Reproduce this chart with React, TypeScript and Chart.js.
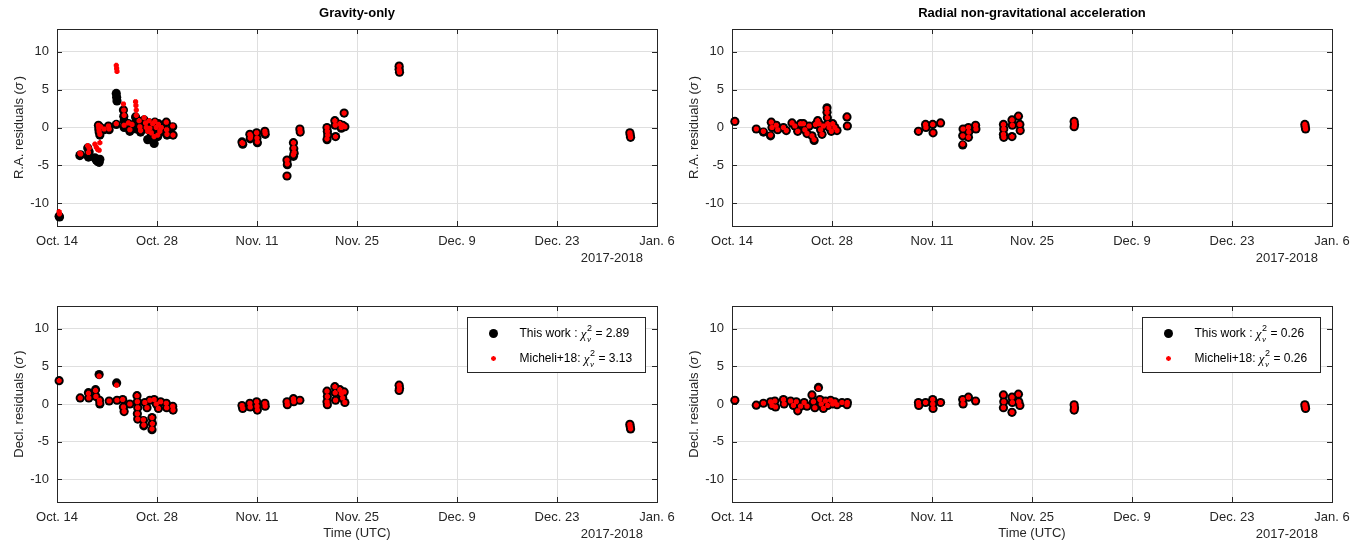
import React, { useEffect, useRef } from "react";
import { Chart, registerables } from "chart.js";
Chart.register(...registerables);

// ---- axis definitions (days since Oct. 14, 2017) ----
const xTickDays = [0, 14, 28, 42, 56, 70, 84];
const xTickLabels = ["Oct. 14", "Oct. 28", "Nov. 11", "Nov. 25", "Dec. 9", "Dec. 23", "Jan. 6"];
const yTicks = [-10, -5, 0, 5, 10];
const yearLabel = "2017-2018";

// ---- Gravity-only, R.A. residuals ----
const grRaDays = [0.3, 0.35, 3.2, 3.3, 4.3, 4.4, 4.5, 5.3, 5.5, 5.7, 5.9, 6.0, 5.8, 5.85, 5.9, 6.0, 6.1, 6.6, 7.2, 7.3, 8.3, 8.35, 8.4, 8.3, 9.3, 9.35, 9.4, 9.4, 10.0, 10.2, 10.5, 11.0, 11.05, 11.1, 11.1, 11.5, 11.6, 11.7, 12.2, 12.4, 12.5, 12.7, 12.9, 13.0, 13.2, 13.4, 13.6, 13.7, 13.9, 14.1, 14.2, 14.4, 14.6, 15.3, 15.35, 15.4, 16.2, 16.25, 25.9, 26.0, 27.0, 27.05, 27.1, 27.95, 28.0, 28.05, 29.1, 29.15, 32.2, 32.25, 32.2, 33.1, 33.15, 33.2, 33.1, 34.0, 34.05, 37.8, 37.85, 37.9, 37.8, 38.9, 38.95, 39.0, 39.6, 39.8, 40.0, 40.2, 40.3, 47.9, 47.9, 47.95, 80.2, 80.25, 80.3];
const grRaThis = [-11.7, -11.8, -3.7, -3.6, -2.7, -3.9, -3.2, -4.0, -4.3, -4.5, -4.6, -4.2, 0.3, -0.2, -0.6, -1.0, 0.0, -0.3, 0.2, -0.3, 4.5, 4.0, 3.5, 0.4, 2.3, 1.5, 0.9, 0.0, 0.5, -0.5, 0.2, 1.4, 0.8, 0.4, -0.2, 0.8, 0.0, -0.6, 1.0, 0.4, -0.2, -1.6, 0.6, -0.4, -1.0, 0.3, -2.1, 0.7, -0.3, -1.2, 0.5, -0.6, 0.1, 0.7, -0.4, -1.0, 0.1, -1.0, -1.9, -2.2, -0.9, -1.5, -1.1, -0.7, -1.4, -2.0, -0.5, -0.9, -4.3, -4.9, -6.4, -2.0, -2.8, -3.4, -3.8, -0.2, -0.6, 0.0, -0.5, -1.0, -1.6, 0.9, 0.3, -1.2, 0.4, -0.1, 0.3, 1.9, 0.1, 8.1, 7.7, 7.3, -0.7, -1.0, -1.3];
const grRaMich = [-11.1, -11.4, -3.4, -3.5, -2.4, -3.3, -2.7, -2.2, -2.6, -2.9, -3.0, -2.0, 0.3, -0.1, -0.5, -0.9, 0.1, -0.2, 0.2, -0.2, 8.2, 7.8, 7.4, 0.5, 3.1, 2.3, 1.6, 0.3, 0.6, -0.3, 0.4, 3.4, 2.9, 2.3, 1.6, 0.9, 0.1, -0.4, 1.3, 0.6, 0.0, -0.5, 0.9, -0.1, -0.7, 0.5, -1.2, 0.8, 0.0, -1.0, 0.4, -0.5, 0.0, 0.7, -0.3, -0.9, 0.2, -1.0, -2.0, -2.1, -0.9, -1.4, -1.1, -0.7, -1.4, -1.9, -0.5, -0.8, -4.3, -4.8, -6.4, -2.0, -2.7, -3.3, -3.6, -0.2, -0.6, 0.0, -0.5, -1.0, -1.5, 0.9, 0.3, -1.2, 0.5, 0.0, 0.3, 1.9, 0.1, 8.1, 7.6, 7.3, -0.7, -1.0, -1.3];

// ---- Radial non-grav, R.A. residuals ----
const ngRaDays = [0.4, 3.4, 4.4, 5.4, 5.5, 5.6, 6.2, 6.4, 7.2, 7.6, 8.4, 8.8, 9.2, 9.6, 10.0, 10.2, 10.5, 10.8, 11.2, 11.5, 11.7, 12.0, 12.2, 12.4, 12.6, 12.8, 13.3, 13.3, 13.35, 13.4, 13.6, 13.9, 14.1, 14.4, 14.7, 16.1, 16.15, 26.1, 27.1, 27.15, 28.1, 28.15, 29.2, 32.3, 32.35, 32.3, 33.1, 33.15, 33.1, 34.1, 34.15, 38.0, 38.05, 38.0, 38.05, 39.2, 39.25, 39.2, 40.1, 40.3, 40.35, 47.9, 47.95, 47.9, 80.2, 80.25, 80.3];
const ngRaThis = [0.8, -0.2, -0.6, -1.1, 0.7, 0.0, 0.3, -0.3, 0.0, -0.4, 0.6, 0.2, -0.5, 0.5, 0.5, -0.3, -0.8, 0.2, -1.1, -1.7, 0.4, 0.9, 0.5, -0.3, -0.9, 0.2, 2.6, 2.0, 1.3, 0.5, 0.0, -0.5, 0.5, 0.0, -0.4, 1.4, 0.2, -0.5, 0.4, 0.0, 0.4, -0.7, 0.6, -2.3, -0.2, -1.1, 0.0, -0.6, -1.3, 0.3, -0.2, 0.4, -0.2, -0.9, -1.3, 1.0, 0.3, -1.2, 1.5, 0.4, -0.4, 0.8, 0.4, 0.1, 0.4, 0.1, -0.2];
const ngRaMich = [0.8, -0.2, -0.5, -1.0, 0.7, 0.0, 0.3, -0.3, 0.0, -0.4, 0.6, 0.2, -0.5, 0.5, 0.5, -0.3, -0.8, 0.2, -1.1, -1.6, 0.4, 0.9, 0.5, -0.3, -0.9, 0.2, 2.5, 2.0, 1.3, 0.5, 0.0, -0.5, 0.5, 0.0, -0.4, 1.4, 0.2, -0.5, 0.4, 0.0, 0.4, -0.7, 0.6, -2.2, -0.2, -1.1, 0.0, -0.6, -1.3, 0.3, -0.2, 0.4, -0.2, -0.9, -1.3, 1.0, 0.3, -1.2, 1.5, 0.4, -0.4, 0.8, 0.4, 0.1, 0.4, 0.1, -0.2];

// ---- Gravity-only, Decl. residuals ----
const grDecDays = [0.3, 3.25, 4.4, 4.45, 5.4, 5.45, 5.9, 5.95, 6.0, 7.3, 8.35, 8.4, 9.2, 9.3, 9.4, 10.2, 11.2, 11.25, 11.3, 11.25, 11.3, 12.1, 12.15, 12.3, 12.6, 13.0, 13.3, 13.35, 13.3, 13.6, 13.9, 14.2, 14.5, 15.3, 15.35, 16.2, 16.25, 25.9, 26.0, 27.0, 27.05, 27.95, 28.0, 28.05, 29.1, 29.15, 32.2, 32.25, 33.1, 33.15, 34.0, 37.8, 37.85, 37.8, 37.85, 38.9, 38.95, 39.0, 39.6, 39.8, 40.0, 40.2, 40.3, 47.9, 47.95, 47.9, 80.2, 80.25, 80.3];
const grDecThis = [3.1, 0.8, 1.5, 0.8, 1.9, 1.0, 3.9, 0.5, 0.0, 0.4, 2.8, 0.5, 0.6, -0.4, -1.0, 0.0, 1.1, 0.3, -0.5, -1.3, -2.0, -2.2, -2.9, 0.2, -0.5, 0.5, -1.8, -2.6, -3.4, 0.6, 0.0, -0.6, 0.3, 0.1, -0.5, -0.3, -0.8, -0.2, -0.6, 0.1, -0.4, 0.3, -0.3, -0.8, 0.1, -0.3, 0.3, -0.1, 0.7, 0.3, 0.5, 1.7, 1.0, 0.3, -0.1, 2.3, 1.5, 0.5, 1.9, 1.4, 0.8, 1.6, 0.2, 2.5, 2.1, 1.8, -2.7, -3.0, -3.3];
const grDecMich = [3.1, 0.8, 1.4, 0.8, 1.8, 1.0, 3.7, 0.5, 0.1, 0.4, 2.5, 0.5, 0.6, -0.4, -1.0, 0.0, 1.1, 0.3, -0.5, -1.3, -2.0, -2.1, -2.8, 0.2, -0.5, 0.5, -1.8, -2.6, -3.3, 0.6, 0.0, -0.6, 0.3, 0.1, -0.5, -0.3, -0.8, -0.2, -0.6, 0.1, -0.4, 0.3, -0.3, -0.8, 0.1, -0.3, 0.3, -0.1, 0.7, 0.3, 0.5, 1.7, 1.0, 0.3, -0.1, 2.3, 1.5, 0.5, 1.9, 1.4, 0.8, 1.6, 0.2, 2.5, 2.1, 1.8, -2.7, -3.0, -3.3];

// ---- Radial non-grav, Decl. residuals ----
const ngDecDays = [0.4, 3.4, 4.4, 5.4, 5.6, 6.1, 6.0, 7.2, 7.3, 8.2, 8.6, 9.0, 9.2, 9.6, 10.1, 10.5, 11.2, 11.4, 11.6, 12.1, 12.3, 12.5, 12.8, 13.1, 13.4, 13.8, 14.1, 14.4, 14.7, 15.4, 16.1, 16.15, 26.1, 26.15, 27.1, 28.1, 28.15, 28.1, 29.2, 32.3, 32.35, 33.1, 34.1, 38.0, 38.05, 38.0, 39.2, 39.2, 39.25, 40.1, 40.15, 40.3, 47.9, 47.95, 47.9, 80.2, 80.25, 80.3];
const ngDecThis = [0.5, -0.15, 0.1, 0.3, -0.2, -0.4, 0.4, 0.6, 0.0, 0.4, -0.2, 0.3, -0.9, -0.3, 0.2, -0.3, 1.2, 0.3, -0.5, 2.2, 0.6, 0.0, -0.6, 0.4, -0.2, 0.5, 0.0, 0.3, -0.1, 0.2, -0.1, 0.2, 0.2, -0.2, 0.2, 0.6, -0.6, 0.0, 0.2, 0.6, 0.0, 0.9, 0.4, 1.2, 0.3, -0.5, -1.1, 0.9, 0.2, 1.3, 0.3, -0.2, -0.1, -0.5, -0.8, -0.1, -0.4, -0.6];
const ngDecMich = [0.5, -0.15, 0.1, 0.3, -0.2, -0.4, 0.4, 0.6, 0.0, 0.4, -0.2, 0.3, -0.9, -0.3, 0.2, -0.3, 1.2, 0.3, -0.5, 2.1, 0.6, 0.0, -0.6, 0.4, -0.2, 0.5, 0.0, 0.3, -0.1, 0.2, -0.1, 0.2, 0.2, -0.2, 0.2, 0.6, -0.6, 0.0, 0.2, 0.6, 0.0, 0.9, 0.4, 1.2, 0.3, -0.5, -1.1, 0.9, 0.2, 1.3, 0.3, -0.2, -0.1, -0.5, -0.8, -0.1, -0.4, -0.6];

const FONT = '"Liberation Sans", Arial, Helvetica, sans-serif';
const AX = "#262626";
const GRID = "#dfdfdf";

type PanelCfg = {
  x: number; y: number; w: number; h: number;
  L: number; R: number; T: number; B: number;
  days: number[]; thisVals: number[]; michVals: number[];
  title?: string; ylab: string; xlab?: string; legend?: [string, string];
};

const panels: PanelCfg[] = [
  { x: 0, y: 0, w: 683, h: 273, L: 57, R: 657, T: 29, B: 226, days: grRaDays, thisVals: grRaThis, michVals: grRaMich, title: "Gravity-only", ylab: "R.A. residuals (" },
  { x: 683, y: 0, w: 683, h: 273, L: 49, R: 649, T: 29, B: 226, days: ngRaDays, thisVals: ngRaThis, michVals: ngRaMich, title: "Radial non-gravitational acceleration", ylab: "R.A. residuals (" },
  { x: 0, y: 273, w: 683, h: 274, L: 57, R: 657, T: 33, B: 229, days: grDecDays, thisVals: grDecThis, michVals: grDecMich, ylab: "Decl. residuals (", xlab: "Time (UTC)", legend: ["2.89", "3.13"] },
  { x: 683, y: 273, w: 683, h: 274, L: 49, R: 649, T: 33, B: 229, days: ngDecDays, thisVals: ngDecThis, michVals: ngDecMich, ylab: "Decl. residuals (", xlab: "Time (UTC)", legend: ["0.26", "0.26"] },
];

function drawAsterisk(ctx: CanvasRenderingContext2D, x: number, y: number, r: number) {
  ctx.save();
  ctx.strokeStyle = "#ff0000";
  ctx.lineWidth = 1.3;
  ctx.beginPath();
  for (let i = 0; i < 4; i++) {
    const a = (i * Math.PI) / 4;
    ctx.moveTo(x - r * Math.cos(a), y - r * Math.sin(a));
    ctx.lineTo(x + r * Math.cos(a), y + r * Math.sin(a));
  }
  ctx.stroke();
  ctx.restore();
}

function drawChi(ctx: CanvasRenderingContext2D, x: number, y: number, val: string) {
  ctx.textAlign = "left";
  ctx.textBaseline = "middle";
  ctx.fillStyle = "#000";
  ctx.font = `italic 13px "Liberation Serif", "Times New Roman", serif`;
  ctx.fillText("\u03c7", x, y + 1);
  let cx = x + ctx.measureText("\u03c7").width + 0.5;
  ctx.font = `9px ${FONT}`;
  ctx.fillText("2", cx, y - 5);
  ctx.font = `italic 9px "Liberation Serif", "Times New Roman", serif`;
  ctx.fillText("\u03bd", cx, y + 6);
  cx += 5;
  ctx.font = `12px ${FONT}`;
  ctx.fillText(" = " + val, cx, y);
}

function makeDeco(cfg: PanelCfg) {
  return {
    id: "deco",
    beforeDatasetsDraw(chart: any) {
      const { ctx, chartArea: a, scales } = chart;
      ctx.save();
      ctx.strokeStyle = AX;
      ctx.lineWidth = 1;
      ctx.strokeRect(Math.round(a.left) + 0.5, Math.round(a.top) + 0.5, Math.round(a.right - a.left), Math.round(a.bottom - a.top));
      const tl = 5;
      ctx.beginPath();
      for (const v of xTickDays) {
        const px = Math.round(scales.x.getPixelForValue(v)) + 0.5;
        ctx.moveTo(px, a.bottom); ctx.lineTo(px, a.bottom - tl);
        ctx.moveTo(px, a.top); ctx.lineTo(px, a.top + tl);
      }
      for (const v of yTicks) {
        const py = Math.round(scales.y.getPixelForValue(v)) + 0.5;
        ctx.moveTo(a.left, py); ctx.lineTo(a.left + tl, py);
        ctx.moveTo(a.right, py); ctx.lineTo(a.right - tl, py);
      }
      ctx.stroke();
      ctx.restore();
    },
    afterDraw(chart: any) {
      const { ctx, chartArea: a } = chart;
      const cx = (a.left + a.right) / 2;
      ctx.save();
      if (cfg.title) {
        ctx.font = `bold 13px ${FONT}`;
        ctx.fillStyle = "#000";
        ctx.textAlign = "center";
        ctx.textBaseline = "middle";
        ctx.fillText(cfg.title, cx, a.top - 16);
      }
      // y label with italic sigma
      ctx.save();
      ctx.translate(a.left - 38, (a.top + a.bottom) / 2);
      ctx.rotate(-Math.PI / 2);
      ctx.fillStyle = AX;
      ctx.textBaseline = "middle";
      ctx.textAlign = "left";
      const p1 = cfg.ylab;
      ctx.font = `13px ${FONT}`;
      const w1 = ctx.measureText(p1).width;
      ctx.font = `italic 13px ${FONT}`;
      const w2 = ctx.measureText("\u03c3").width;
      ctx.font = `13px ${FONT}`;
      const w3 = ctx.measureText(")").width;
      let sx = -(w1 + w2 + w3 + 2) / 2;
      ctx.fillText(p1, sx, 0); sx += w1;
      ctx.font = `italic 13px ${FONT}`;
      ctx.fillText("\u03c3", sx, 0); sx += w2 + 2;
      ctx.font = `13px ${FONT}`;
      ctx.fillText(")", sx, 0);
      ctx.restore();
      // year label
      ctx.font = `13px ${FONT}`;
      ctx.fillStyle = AX;
      ctx.textAlign = "right";
      ctx.textBaseline = "middle";
      ctx.fillText(yearLabel, a.right - 14, a.bottom + 32);
      if (cfg.xlab) {
        ctx.textAlign = "center";
        ctx.fillText(cfg.xlab, cx, a.bottom + 31);
      }
      if (cfg.legend) {
        const bw = 178, bh = 55;
        const bx = Math.round(a.right - 12 - bw) + 0.5;
        const by = Math.round(a.top + 11) + 0.5;
        ctx.fillStyle = "#fff";
        ctx.fillRect(bx, by, bw, bh);
        ctx.strokeStyle = AX;
        ctx.lineWidth = 1;
        ctx.strokeRect(bx, by, bw, bh);
        const r1 = by + 16, r2 = by + 41;
        ctx.fillStyle = "#000";
        ctx.beginPath();
        ctx.arc(bx + 26, r1, 4.5, 0, Math.PI * 2);
        ctx.fill();
        drawAsterisk(ctx, bx + 26, r2, 2.5);
        ctx.font = `12px ${FONT}`;
        ctx.fillStyle = "#000";
        ctx.textAlign = "left";
        ctx.textBaseline = "middle";
        const t1 = "This work : ";
        ctx.fillText(t1, bx + 52, r1);
        const tw1 = ctx.measureText(t1).width;
        drawChi(ctx, bx + 52 + tw1, r1, cfg.legend[0]);
        ctx.font = `12px ${FONT}`;
        const t2 = "Micheli+18: ";
        ctx.fillText(t2, bx + 52, r2);
        const tw2 = ctx.measureText(t2).width;
        drawChi(ctx, bx + 52 + tw2, r2, cfg.legend[1]);
      }
      ctx.restore();
    },
  };
}

function Panel({ cfg }: { cfg: PanelCfg }) {
  const ref = useRef<HTMLCanvasElement>(null);
  useEffect(() => {
    const thisPts = cfg.days.map((d, i) => ({ x: d, y: cfg.thisVals[i] }));
    const michPts = cfg.days.map((d, i) => ({ x: d, y: cfg.michVals[i] }));
    const chart = new Chart(ref.current as HTMLCanvasElement, {
      type: "scatter",
      data: {
        datasets: [
          { label: "This work", order: 2, data: thisPts, pointStyle: "circle", pointRadius: 4.6, pointBackgroundColor: "#000", pointBorderColor: "#000", pointBorderWidth: 0, clip: false } as any,
          { label: "Micheli+18", order: 1, data: michPts, pointStyle: "star", pointRadius: 2.6, pointBorderColor: "#ff0000", pointBackgroundColor: "#ff0000", pointBorderWidth: 2.4, clip: false } as any,
        ],
      },
      options: {
        animation: false,
        responsive: false,
        devicePixelRatio: 1,
        events: [],
        layout: { padding: { top: cfg.T, left: 0, right: cfg.w - cfg.R, bottom: 0 } },
        plugins: { legend: { display: false }, tooltip: { enabled: false }, title: { display: false } },
        scales: {
          x: {
            type: "linear",
            min: 0,
            max: 84,
            afterBuildTicks: (s: any) => { s.ticks = xTickDays.map((v) => ({ value: v })); },
            afterFit: (s: any) => { s.height = cfg.h - cfg.B; },
            ticks: {
              autoSkip: false,
              maxRotation: 0,
              padding: 8,
              color: AX,
              font: { family: FONT, size: 13 },
              callback: (_v: any, i: number) => xTickLabels[i],
            },
            grid: { color: GRID, drawTicks: false, lineWidth: 1 },
            border: { display: false },
          },
          y: {
            type: "linear",
            min: -13,
            max: 13,
            afterBuildTicks: (s: any) => { s.ticks = yTicks.map((v) => ({ value: v })); },
            afterFit: (s: any) => { s.width = cfg.L; },
            ticks: {
              padding: 8,
              color: AX,
              font: { family: FONT, size: 13 },
              callback: (_v: any, i: number) => String(yTicks[i]),
            },
            grid: { color: GRID, drawTicks: false, lineWidth: 1 },
            border: { display: false },
          },
        },
      },
      plugins: [makeDeco(cfg)],
    } as any);
    return () => chart.destroy();
  }, []);
  return (
    <canvas
      ref={ref}
      width={cfg.w}
      height={cfg.h}
      style={{ position: "absolute", left: cfg.x, top: cfg.y, width: cfg.w, height: cfg.h }}
    />
  );
}

export default function App() {
  return (
    <div style={{ position: "fixed", left: 0, top: 0, width: 1366, height: 547, background: "#fff", overflow: "hidden" }}>
      {panels.map((p, i) => (
        <Panel key={i} cfg={p} />
      ))}
    </div>
  );
}
